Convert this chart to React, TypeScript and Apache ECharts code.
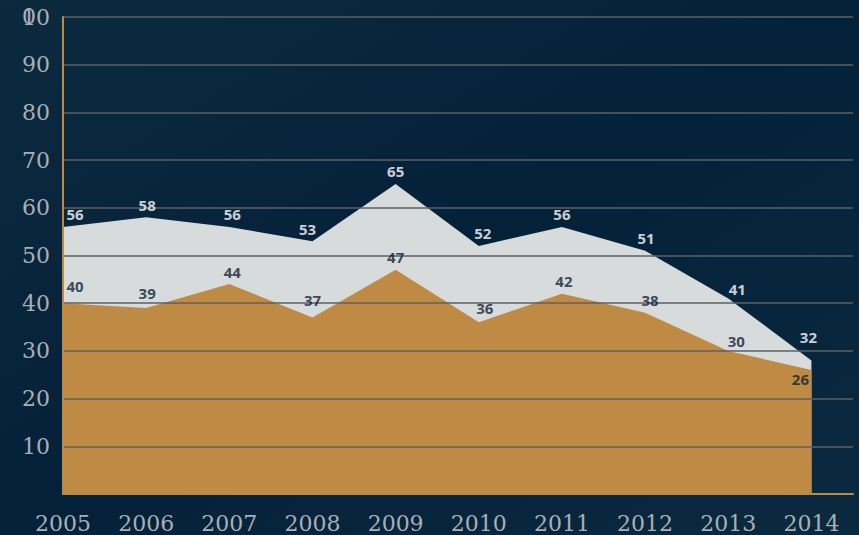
import React, { useEffect, useRef } from "react";
import * as echarts from "echarts";

const years = [2005, 2006, 2007, 2008, 2009, 2010, 2011, 2012, 2013, 2014];
const totalValues = [56, 58, 56, 53, 65, 52, 56, 51, 41, 28];
const totalLabels = ["56", "58", "56", "53", "65", "52", "56", "51", "41", "32"];
const partValues = [40, 39, 44, 37, 47, 36, 42, 38, 30, 26];
const partLabels = ["40", "39", "44", "37", "47", "36", "42", "38", "30", "26"];

const totalOffsets = [[12, 0], [1, 0], [3, 0], [-5, 0], [0, 0], [4, 0], [0, 0], [1, 0], [9, 3], [-3, -11]];
const partOffsets = [[12, -5], [1, -2], [3, 0], [0, -5], [0, 0], [6, -2], [2, 0], [5, 0], [8, 3], [-11, 22]];

export default function App() {
  const ref = useRef<HTMLDivElement>(null);
  useEffect(() => {
    document.body.style.margin = "0";
    const chart = echarts.init(ref.current!, null, { renderer: "svg" });
    const pts = (vals: number[]) => years.map((y, i) => [y, vals[i]]);
    const labelData = (vals: number[], labels: string[], offs: number[][], color: string) =>
      years.map((y, i) => ({
        value: [y, vals[i]],
        label: { offset: offs[i], color, formatter: labels[i] },
      }));
    const labelStyle = {
      show: true,
      position: "top",
      distance: 5,
      fontFamily: "Open Sans",
      fontWeight: 700,
      fontSize: 15,
    };
    chart.setOption({
      animation: false,
      backgroundColor: {
        type: "linear",
        x: 0, y: 0, x2: 1, y2: 1,
        colorStops: [
          { offset: 0, color: "#0c2a3e" },
          { offset: 0.5, color: "#04213a" },
          { offset: 1, color: "#0a2a40" },
        ],
      },
      grid: { left: 63, right: 6, top: 17, bottom: 41, containLabel: false },
      xAxis: {
        type: "value",
        min: 2005,
        max: 2014.5,
        interval: 1,
        z: 3,
        axisLine: { show: true, lineStyle: { color: "#c08a3e", width: 2 } },
        axisTick: { show: false },
        splitLine: { show: false },
        axisLabel: {
          margin: 18,
          color: "#a9afb4",
          fontFamily: "DejaVu Serif",
          fontSize: 22,
          showMaxLabel: false,
          formatter: (v: number) => (Number.isInteger(v) ? String(v) : ""),
        },
      },
      yAxis: {
        type: "value",
        min: 0,
        max: 100,
        interval: 10,
        z: 3,
        axisLine: { show: true, lineStyle: { color: "#c08a3e", width: 2 } },
        axisTick: { show: false },
        splitLine: { show: true, lineStyle: { color: "#5c6064", width: 1.5 } },
        axisLabel: {
          margin: 13,
          color: "#a9afb4",
          fontFamily: "DejaVu Serif",
          fontSize: 22,
          formatter: (v: number) => (v === 0 ? "" : v === 100 ? "10" : String(v)),
        },
      },
      graphic: [
        {
          type: "text",
          left: 22,
          top: 5,
          z: 0,
          style: { text: "0", fill: "#a9afb4", font: "22px 'DejaVu Serif'" },
        },
      ],
      series: [
        {
          type: "line",
          data: pts(totalValues),
          symbol: "none",
          lineStyle: { width: 0 },
          areaStyle: { color: "#d7dbdb", opacity: 1 },
          z: 2,
        },
        {
          type: "line",
          data: pts(partValues),
          symbol: "none",
          lineStyle: { width: 0 },
          areaStyle: { color: "#be8a44", opacity: 1 },
          z: 2,
        },
        {
          type: "scatter",
          symbolSize: 0,
          z: 5,
          data: labelData(totalValues, totalLabels, totalOffsets, "#ffffff"),
          label: labelStyle,
          silent: true,
        },
        {
          type: "scatter",
          symbolSize: 0,
          z: 5,
          data: labelData(partValues, partLabels, partOffsets, "#0f2236"),
          label: labelStyle,
          silent: true,
        },
      ],
    });
    return () => chart.dispose();
  }, []);
  return <div ref={ref} style={{ width: 859, height: 535 }} />;
}
